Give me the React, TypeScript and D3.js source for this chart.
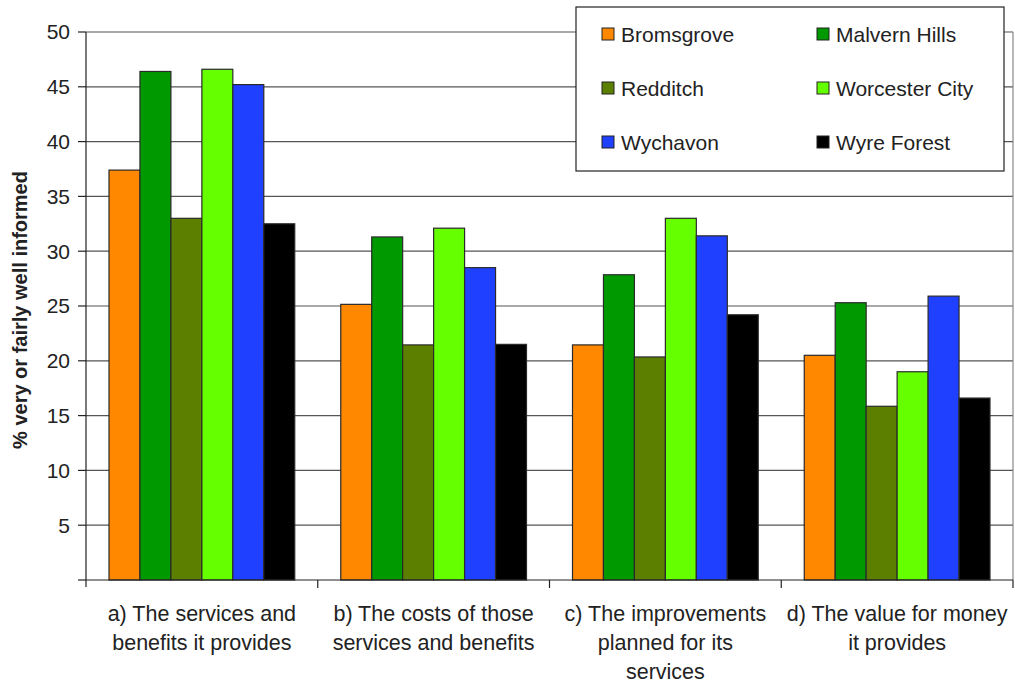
import React from "react";
import * as d3 from "d3";

const categories = ["a", "b", "c", "d"];
const categoryLabels: string[][] = [
  ["a) The services and", "benefits it provides"],
  ["b) The costs of those", "services and benefits"],
  ["c) The improvements", "planned for its", "services"],
  ["d) The value for money", "it provides"],
];
const seriesNames = ["Bromsgrove", "Malvern Hills", "Redditch", "Worcester City", "Wychavon", "Wyre Forest"];
const seriesColors = ["#FF8800", "#009900", "#5C7F00", "#66FF00", "#2040FF", "#000000"];
const bromsgrove = [37.4, 25.15, 21.45, 20.5];
const malvernHills = [46.4, 31.3, 27.85, 25.3];
const redditch = [33.0, 21.45, 20.35, 15.85];
const worcesterCity = [46.6, 32.1, 33.0, 19.0];
const wychavon = [45.2, 28.5, 31.4, 25.9];
const wyreForest = [32.5, 21.5, 24.2, 16.6];
const seriesValues = [bromsgrove, malvernHills, redditch, worcesterCity, wychavon, wyreForest];
const yTicks = [5, 10, 15, 20, 25, 30, 35, 40, 45, 50];
const yTitle = "% very or fairly well informed";

const W = 1015;
const H = 684;
const left = 86;
const right = 1013;
const top = 32;
const bottom = 580;
const font = "'Liberation Sans', Arial, sans-serif";

export default function App() {
  const y = d3.scaleLinear().domain([0, 50]).range([bottom, top]);
  const x0 = d3.scaleBand<string>().domain(categories).range([left, right]).padding(0);
  const bw = x0.bandwidth();
  const x1 = d3.scaleBand<number>().domain(d3.range(seriesNames.length)).range([23, bw - 23]).padding(0);

  const legendRows = [[0, 1], [2, 3], [4, 5]];

  return (
    <svg width={W} height={H} style={{ position: "absolute", left: 0, top: 0, background: "#fff" }} fontFamily={font}>
      <rect x={0} y={0} width={W} height={H} fill="#fff" />
      {/* gridlines */}
      {yTicks.map((t) => (
        <line key={"g" + t} x1={left} x2={right} y1={y(t)} y2={y(t)} stroke="#555" strokeWidth={1.2} />
      ))}
      <line x1={right} x2={right} y1={top} y2={bottom} stroke="#888" strokeWidth={1.2} />
      {/* bars */}
      {categories.map((c, ci) => (
        <g key={c} transform={`translate(${x0(c)},0)`}>
          {seriesValues.map((vals, si) => (
            <rect
              key={si}
              x={x1(si)}
              y={y(vals[ci])}
              width={x1.bandwidth()}
              height={bottom - y(vals[ci])}
              fill={seriesColors[si]}
              stroke="#2a2a2a"
              strokeWidth={1.2}
            />
          ))}
        </g>
      ))}
      {/* y axis */}
      <line x1={left} x2={left} y1={top} y2={bottom + 7} stroke="#222" strokeWidth={1.2} />
      {yTicks.map((t) => (
        <g key={"t" + t}>
          <line x1={left - 8} x2={left} y1={y(t)} y2={y(t)} stroke="#222" strokeWidth={1.2} />
          <text x={left - 16} y={y(t)} dy="0.35em" textAnchor="end" fontSize={21} fill="#222">
            {t}
          </text>
        </g>
      ))}
      <line x1={left - 8} x2={left} y1={bottom} y2={bottom} stroke="#222" strokeWidth={1.2} />
      {/* x axis */}
      <line x1={left} x2={right} y1={bottom} y2={bottom} stroke="#222" strokeWidth={1.2} />
      {categories.map((c) => (
        <line key={"xt" + c} x1={(x0(c) as number) + bw} x2={(x0(c) as number) + bw} y1={bottom} y2={bottom + 8} stroke="#222" strokeWidth={1.2} />
      ))}
      {categories.map((c, ci) => (
        <text key={"xl" + c} textAnchor="middle" fontSize={21.5} fill="#222">
          {categoryLabels[ci].map((ln, li) => (
            <tspan key={li} x={(x0(c) as number) + bw / 2} y={621 + li * 29}>
              {ln}
            </tspan>
          ))}
        </text>
      ))}
      {/* y title */}
      <text
        transform={`translate(27,${(top + bottom) / 2 + 4}) rotate(-90)`}
        textAnchor="middle"
        fontSize={20}
        fontWeight="bold"
        fill="#222"
      >
        {yTitle}
      </text>
      {/* legend */}
      <rect x={576} y={7} width={428} height={164} fill="#fff" stroke="#222" strokeWidth={1.2} />
      {legendRows.map((row, ri) =>
        row.map((si, ci) => {
          const lx = ci === 0 ? 602 : 817;
          const ly = 34 + ri * 54;
          return (
            <g key={si}>
              <rect x={lx} y={ly - 6} width={12} height={12} fill={seriesColors[si]} stroke="#222" strokeWidth={1} />
              <text x={lx + 19} y={ly} dy="0.36em" fontSize={21} fill="#222">
                {seriesNames[si]}
              </text>
            </g>
          );
        })
      )}
    </svg>
  );
}
